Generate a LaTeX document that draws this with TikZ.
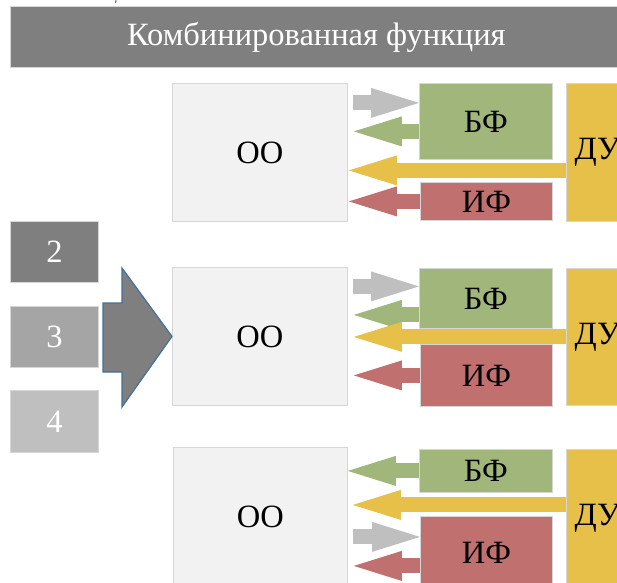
\documentclass[tikz,border=0pt]{standalone}
\usepackage{fontspec}
\setmainfont{Liberation Serif}
\usetikzlibrary{calc,arrows.meta}
\newcommand{\labelfont}{\fontsize{32.5}{34}\selectfont}
\definecolor{titlegray}{RGB}{127,127,127}
\definecolor{oofill}{RGB}{242,242,242}
\definecolor{boxline}{RGB}{214,214,214}
\definecolor{bfgreen}{RGB}{161,182,123}
\definecolor{ifred}{RGB}{191,112,111}
\definecolor{duyellow}{RGB}{230,192,72}
\definecolor{lightgray}{RGB}{191,191,191}
\definecolor{midgray}{RGB}{165,165,165}
\definecolor{edgeblue}{RGB}{65,113,156}
\tikzset{
box/.style={draw=boxline,line width=0.8pt,anchor=north west,inner sep=0pt,font=\labelfont},
oobox/.style={box,fill=oofill,minimum width=175pt},
bfbox/.style={box,fill=bfgreen,minimum width=133pt},
ifbox/.style={box,fill=ifred,minimum width=132pt},
dubox/.style={box,fill=duyellow,minimum width=62pt,minimum height=138pt},
numbox/.style={box,text=white,minimum width=88pt},
titlebar/.style={box,fill=titlegray,text=white},
flow/.style={line width=15pt,-{Triangle[length=48pt,width=30pt,line width=0pt]}},
grayflow/.style={flow,lightgray},
greenflow/.style={flow,bfgreen},
yellowflow/.style={flow,duyellow},
redflow/.style={flow,ifred},
bigarrow/.style={fill=titlegray,draw=edgeblue,line width=1.2pt,line join=miter}
}
\begin{document}
\begin{tikzpicture}[x=1pt,y=-1pt]
\useasboundingbox (0,0) rectangle (617,582);
% header
\node[titlebar,minimum width=612pt,minimum height=61pt] (title) at (10,6) {Комбинированная функция};
\draw[edgeblue,line width=1pt] (116,0) -- (115.5,3);
% left column
\node[numbox,fill=titlegray,minimum height=61pt] (n2) at (10,221) {2};
\node[numbox,fill=midgray,minimum height=61pt] (n3) at (10,306) {3};
\node[numbox,fill=lightgray,minimum height=62pt] (n4) at (10,390) {4};
% block 1
\node[oobox,minimum height=138pt] (oo1) at (172,83) {ОО};
\node[bfbox,minimum height=76pt] (bf1) at (419,83) {БФ};
\node[ifbox,minimum height=38pt] (if1) at (420,182) {ИФ};
\node[dubox] (du1) at (566,83) {ДУ};
% block 2
\node[oobox,minimum height=138pt] (oo2) at (172,267) {ОО};
\node[bfbox,minimum height=60pt] (bf2) at (419,268) {БФ};
\node[ifbox,minimum height=62pt] (if2) at (420,344) {ИФ};
\node[dubox,minimum height=137pt] (du2) at (566,268) {ДУ};
% block 3
\node[oobox,minimum width=174pt,minimum height=138pt] (oo3) at (173,447) {ОО};
\node[bfbox,minimum height=43pt] (bf3) at (419,449) {БФ};
\node[ifbox,minimum height=72pt] (if3) at (420,516) {ИФ};
\node[dubox] (du3) at (566,449) {ДУ};
% big arrow into block 2
\draw[bigarrow] (103,303) -- (122,303) -- (122,268) -- (oo2.west) -- (122,407) -- (122,372) -- (103,372) -- cycle;
% flows block 1
\draw[grayflow] ($(bf1.west -| oo1.east)+(5,-18.5)$) -- ($(bf1.west)+(0,-18.5)$);
\draw[greenflow] ($(bf1.west)+(0,10)$) -- ($(bf1.west -| oo1.east)+(6,10)$);
\draw[yellowflow] ($(du1.west)+(0,18)$) -- ($(du1.west -| oo1.east)+(1,18)$);
\draw[redflow] (if1.west) -- ($(if1.west -| oo1.east)+(1,0)$);
% flows block 2
\draw[grayflow] ($(bf2.west -| oo2.east)+(5,-12)$) -- ($(bf2.west)+(0,-12)$);
\draw[greenflow] ($(bf2.west)+(0,16.5)$) -- ($(bf2.west -| oo2.east)+(6,16.5)$);
\draw[yellowflow] (du2.west) -- ($(du2.west -| oo2.east)+(6,0)$);
\draw[redflow] (if2.west) -- ($(if2.west -| oo2.east)+(6,0)$);
% flows block 3
\draw[greenflow] (bf3.west) -- (bf3.west -| oo3.east);
\draw[yellowflow] ($(du3.west)+(0,-13.5)$) -- ($(du3.west -| oo3.east)+(5,-13.5)$);
\draw[grayflow] ($(if3.west -| oo3.east)+(5,-15.5)$) -- ($(if3.west)+(0,-15.5)$);
\draw[redflow] ($(if3.west)+(0,13.5)$) -- ($(if3.west -| oo3.east)+(6,13.5)$);
\end{tikzpicture}
\end{document}
